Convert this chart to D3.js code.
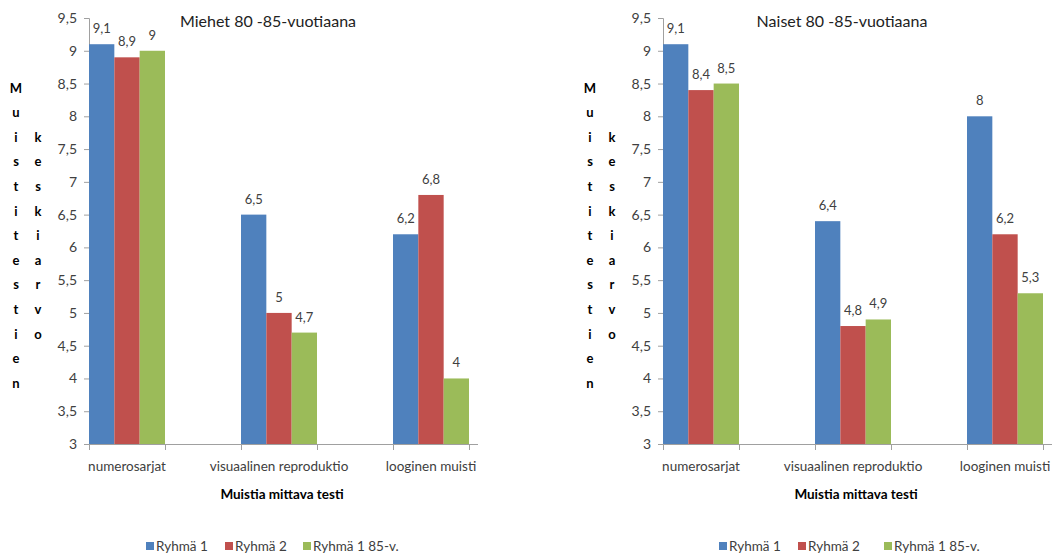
<!DOCTYPE html>
<html>
<head>
<meta charset="utf-8">
<script src="https://cdn.jsdelivr.net/npm/d3@7"></script>
<style>
  html, body { margin: 0; padding: 0; background: #fff; }
  svg { display: block; font-family: Lato, "Open Sans", sans-serif; }
</style>
</head>
<body>
<svg id="chart" width="1052" height="559"></svg>
<script>
// Memory test means by group, two panels (men / women)
const categories = ["numerosarjat", "visuaalinen reproduktio", "looginen muisti"];
const seriesNames = ["Ryhmä 1", "Ryhmä 2", "Ryhmä 1 85-v."];
const seriesColors = ["#4F81BD", "#C0504D", "#9BBB59"];

// values per series, in category order
const menValues = [
  [9.1, 6.5, 6.2],
  [8.9, 5, 6.8],
  [9, 4.7, 4]
];
const womenValues = [
  [9.1, 6.4, 8],
  [8.4, 4.8, 6.2],
  [8.5, 4.9, 5.3]
];

const yTicks = [3, 3.5, 4, 4.5, 5, 5.5, 6, 6.5, 7, 7.5, 8, 8.5, 9, 9.5];
const menTitle = "Miehet 80 -85-vuotiaana";
const womenTitle = "Naiset 80 -85-vuotiaana";
const yTitleA = "Muistitestien";
const yTitleB = "keskiarvo";
const xTitle = "Muistia mittava testi";

const fmt = v => String(v).replace(".", ",");
const svg = d3.select("#chart");
const axisColor = "#a0a0a0";
const textColor = "#404040";

function drawPanel(offsetX, title, values, titleX, legendXs) {
  const g = svg.append("g").attr("transform", `translate(${offsetX},0)`);

  const y = d3.scaleLinear().domain([3, 9.5]).range([444, 18]);
  const x = d3.scaleBand().domain(categories).range([89, 469]).paddingInner(0.5).paddingOuter(0);
  const xs = d3.scaleBand().domain(seriesNames).range([0, x.bandwidth()]).padding(0);

  // y axis
  const yAxis = g.append("g")
    .attr("transform", "translate(89,0)")
    .call(d3.axisLeft(y).tickValues(yTicks).tickSize(5).tickPadding(7).tickFormat(fmt));
  yAxis.select(".domain").attr("stroke", axisColor);
  yAxis.selectAll(".tick line").attr("stroke", axisColor);
  yAxis.selectAll(".tick text")
    .attr("fill", textColor).attr("font-size", 14).attr("font-family", "Lato, sans-serif");

  // bars
  seriesNames.forEach((s, si) => {
    g.append("g").selectAll("rect")
      .data(categories.map((c, ci) => ({ c, v: values[si][ci] })))
      .join("rect")
      .attr("x", d => x(d.c) + xs(s))
      .attr("y", d => y(d.v))
      .attr("width", xs.bandwidth())
      .attr("height", d => y(3) - y(d.v))
      .attr("fill", seriesColors[si]);

    g.append("g").selectAll("text")
      .data(categories.map((c, ci) => ({ c, v: values[si][ci] })))
      .join("text")
      .attr("x", d => x(d.c) + xs(s) + xs.bandwidth() / 2)
      .attr("y", d => y(d.v) - 11)
      .attr("text-anchor", "middle")
      .attr("font-size", 13)
      .attr("fill", textColor)
      .text(d => fmt(d.v));
  });

  // x axis line with tick marks at the edges of each group
  g.append("line")
    .attr("x1", 89).attr("x2", 478).attr("y1", y(3) + 0.5).attr("y2", y(3) + 0.5)
    .attr("stroke", axisColor);
  const edges = [];
  categories.forEach(c => { edges.push(x(c)); edges.push(x(c) + x.bandwidth()); });
  g.append("g").selectAll("line").data(edges).join("line")
    .attr("x1", d => Math.round(d) + 0.5).attr("x2", d => Math.round(d) + 0.5)
    .attr("y1", y(3)).attr("y2", y(3) + 6)
    .attr("stroke", axisColor);

  g.append("g").selectAll("text").data(categories).join("text")
    .attr("x", d => x(d) + x.bandwidth() / 2)
    .attr("y", 471)
    .attr("text-anchor", "middle")
    .attr("font-size", 13.5)
    .attr("fill", textColor)
    .text(d => d);

  // titles
  g.append("text")
    .attr("x", titleX).attr("y", 27)
    .attr("text-anchor", "middle")
    .attr("font-size", 16)
    .attr("fill", "#222")
    .text(title);

  g.append("text")
    .attr("x", 282).attr("y", 499)
    .attr("text-anchor", "middle")
    .attr("font-size", 13.5)
    .attr("font-weight", "bold")
    .attr("fill", "#000")
    .text(xTitle);

  // stacked vertical axis title, one letter per row
  const rowY = i => 88 + i * 24.6;
  g.append("g").selectAll("text").data(Array.from(yTitleA)).join("text")
    .attr("x", 16).attr("y", (d, i) => rowY(i))
    .attr("dy", "0.35em")
    .attr("text-anchor", "middle")
    .attr("font-size", 13).attr("font-weight", "bold")
    .text(d => d);
  g.append("g").selectAll("text").data(Array.from(yTitleB)).join("text")
    .attr("x", 38).attr("y", (d, i) => rowY(i + 2))
    .attr("dy", "0.35em")
    .attr("text-anchor", "middle")
    .attr("font-size", 13).attr("font-weight", "bold")
    .text(d => d);

  // legend
  const lg = g.append("g").selectAll("g").data(seriesNames).join("g")
    .attr("transform", (d, i) => `translate(${legendXs[i]},546)`);
  lg.append("rect").attr("x", 0).attr("y", -4).attr("width", 8).attr("height", 8)
    .attr("fill", (d, i) => seriesColors[i]);
  lg.append("text").attr("x", 10).attr("dy", "0.35em")
    .attr("font-size", 13.5).attr("fill", textColor)
    .text(d => d);
}

drawPanel(0, menTitle, menValues, 268, [146, 225, 303]);
drawPanel(574, womenTitle, womenValues, 268, [145, 224, 310]);
</script>
</body>
</html>
